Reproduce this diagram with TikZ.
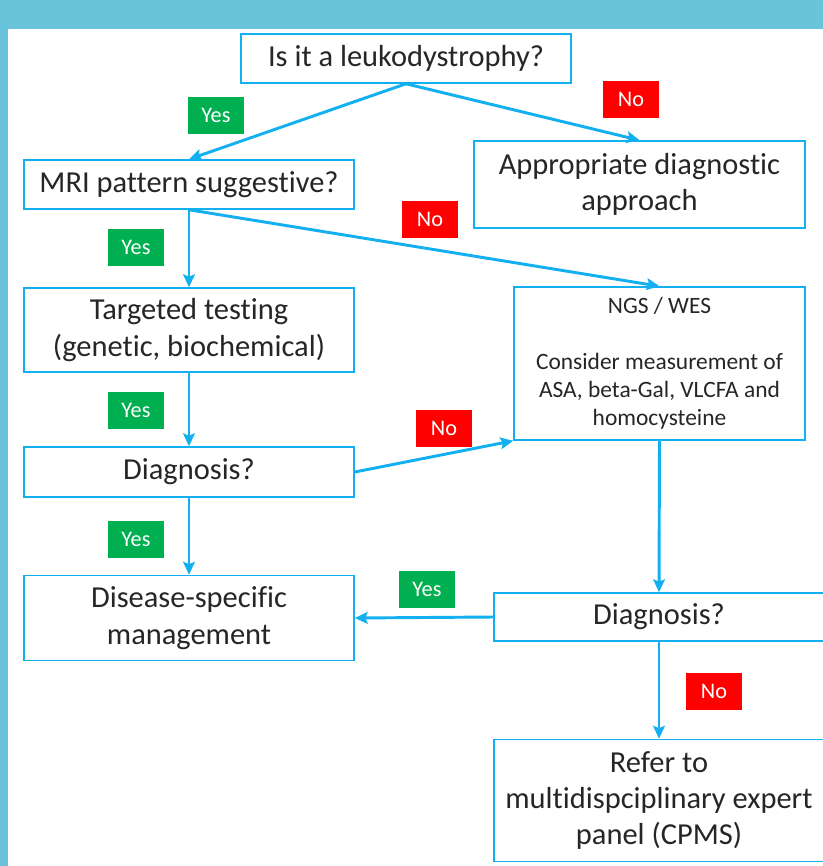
\documentclass[tikz,border=0pt]{standalone}
\usepackage{fontspec}
\setmainfont{Carlito}[Ligatures=NoCommon]
\usetikzlibrary{arrows.meta}
\definecolor{frameblue}{RGB}{104,195,219}
\definecolor{lineblue}{RGB}{18,176,240}
\definecolor{yesgreen}{RGB}{0,176,80}
\definecolor{nored}{RGB}{255,0,0}
\begin{document}
\begin{tikzpicture}[x=0.03cm, y=-0.03cm, >={Stealth[length=11pt,width=10pt,inset=2pt]},
  box/.style={draw=lineblue, line width=1.3pt, fill=white, text=black!85, align=center,
    minimum width=9.9cm, font=\fontsize{26}{31}\selectfont, inner sep=0pt},
  yes/.style={fill=yesgreen, text=white, minimum width=1.68cm, minimum height=1.11cm,
    font=\fontsize{19}{22}\selectfont, inner sep=0pt},
  no/.style={yes, fill=nored},
  link/.style={->, draw=lineblue, line width=2.5pt}]
% frame
\fill[frameblue](0,0)rectangle(823,866);
\fill[white](8,29)rectangle(823,866);
\useasboundingbox(0,0)rectangle(823,866);
% boxes
\node[box, minimum height=1.47cm](leuko)at(406,58.5){Is it a leukodystrophy?};
\node[box, minimum height=1.47cm](mri)at(189,184.5){MRI pattern suggestive?};
\node[box, minimum width=9.93cm, minimum height=2.61cm](appr)at(639.5,184.5){Appropriate diagnostic\\approach};
\node[box, minimum height=2.52cm](target)at(189,330){Targeted testing\\(genetic, biochemical)};
\node[box, minimum width=8.73cm, minimum height=4.59cm, font=\fontsize{20}{24}\selectfont](ngs)at(659.5,363.5){NGS / WES\\[24pt]Consider measurement of\\ASA, beta-Gal, VLCFA and\\homocysteine};
\node[box, minimum height=1.5cm](diagl)at(189,472){Diagnosis?};
\node[box, minimum height=2.55cm](disease)at(189,618){Disease-specific\\management};
\node[box, minimum height=1.44cm](diagr)at(659,617){Diagnosis?};
\node[box, minimum height=3.66cm](refer)at(659,800.5){Refer to\\multidispciplinary expert\\panel (CPMS)};
% yes / no tags
\node[yes](y1)at(216,115.5){Yes};
\node[no](n1)at(631,99.5){No};
\node[no](n2)at(430,219.5){No};
\node[yes](y2)at(136,247.5){Yes};
\node[yes](y3)at(136,410.5){Yes};
\node[no](n3)at(444,428.5){No};
\node[yes](y4)at(136,539.5){Yes};
\node[yes](y5)at(427,589.5){Yes};
\node[no](n4)at(714,691.5){No};
% arrows
\draw[link](leuko.south)--(mri.north);
\draw[link](leuko.south)--(appr.north);
\draw[link](mri.south)--(target.north);
\draw[link](mri.south)--(ngs.north);
\draw[link](target.south)--(diagl.north);
\draw[link](diagl.east)--(ngs.south west);
\draw[link](diagl.south)--(disease.north);
\draw[link](ngs.south)--(diagr.north);
\draw[link](diagr.west)--(disease.east);
\draw[link](diagr.south)--(refer.north);
\end{tikzpicture}
\end{document}
